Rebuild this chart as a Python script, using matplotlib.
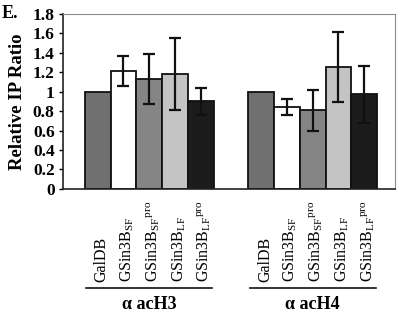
import matplotlib
matplotlib.use("Agg")
from matplotlib import pyplot as plt

plt.rcParams["font.family"] = ["Liberation Serif", "DejaVu Serif"]
plt.rcParams["mathtext.fontset"] = "custom"
plt.rcParams["mathtext.rm"] = "Liberation Serif"
plt.rcParams["mathtext.it"] = "Liberation Serif"
plt.rcParams["mathtext.bf"] = "Liberation Serif:bold"

labels = ["GalDB", r"GSin3B$_\mathrm{SF}$", r"GSin3B$_\mathrm{SF}$$^\mathrm{pro}$",
          r"GSin3B$_\mathrm{LF}$", r"GSin3B$_\mathrm{LF}$$^\mathrm{pro}$"]
groups = ["α acH3", "α acH4"]
h3 = [1.0, 1.21, 1.13, 1.18, 0.90]
h3_err = [0, 0.15, 0.26, 0.37, 0.14]
h4 = [1.0, 0.84, 0.81, 1.25, 0.97]
h4_err = [0, 0.08, 0.21, 0.36, 0.29]
colors = ["#707070", "#ffffff", "#858585", "#c4c4c4", "#1c1c1c"]

fig = plt.figure(figsize=(4, 3.16), dpi=100)
ax = fig.add_axes([0.1575, 0.402, 0.83, 0.555])

offset = 6.35
for g, (vals, errs) in enumerate([(h3, h3_err), (h4, h4_err)]):
    xs = [i + g * offset for i in range(5)]
    ax.bar(xs, vals, width=1.0, color=colors, edgecolor="#111111", linewidth=1.3, zorder=2)
    ex = [x for x, e in zip(xs, errs) if e > 0]
    ev = [v for v, e in zip(vals, errs) if e > 0]
    ee = [e for e in errs if e > 0]
    ax.errorbar(ex, ev, yerr=ee, fmt="none", ecolor="#111111", elinewidth=1.6,
                capsize=4, capthick=1.6, zorder=3)
    for i, x in enumerate(xs):
        ax.text(x + 0.15, -0.95, labels[i], rotation=90, ha="center", va="bottom",
                fontsize=11.5, rotation_mode="default")
    ax.plot([xs[0] - 0.45, xs[-1] + 0.45], [-1.02, -1.02], color="#111111", lw=1.2,
            clip_on=False)
    ax.text((xs[0] + xs[-1]) / 2, -1.1, groups[g], ha="center", va="top",
            fontsize=13, fontweight="bold")

ax.set_xlim(-1.35, 11.55)
ax.set_ylim(0, 1.8)
ax.set_xticks([])
ax.set_yticks([0, 0.2, 0.4, 0.6, 0.8, 1, 1.2, 1.4, 1.6, 1.8])
ax.set_yticklabels(["0", "0.2", "0.4", "0.6", "0.8", "1", "1.2", "1.4", "1.6", "1.8"],
                   fontweight="bold", fontsize=12.5)
ax.tick_params(axis="y", length=3, width=1, pad=3)
ax.set_ylabel("Relative IP Ratio", fontweight="bold", fontsize=13.5, labelpad=5)
for s in ["top", "right"]:
    ax.spines[s].set_color("#8a8a8a")
for s in ["left", "bottom"]:
    ax.spines[s].set_color("#222222")
    ax.spines[s].set_linewidth(1.2)

fig.text(0.005, 0.985, "E.", fontsize=13, fontweight="bold", va="top")

fig.savefig("out.png", dpi=100)
